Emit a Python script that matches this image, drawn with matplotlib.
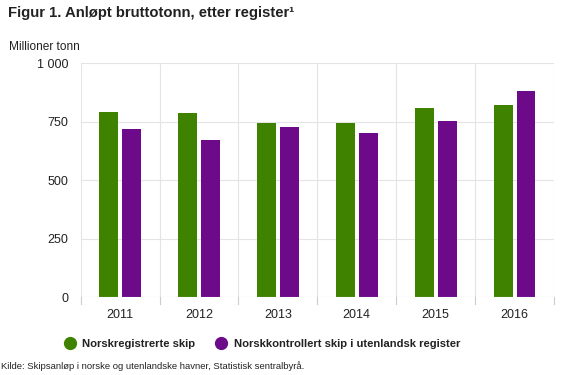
import matplotlib
matplotlib.use("Agg")
import matplotlib.pyplot as plt
import numpy as np
from matplotlib.lines import Line2D

plt.rcParams['font.family'] = ['Liberation Sans', 'DejaVu Sans']

years = ['2011', '2012', '2013', '2014', '2015', '2016']
norsk_reg = [793, 786, 746, 746, 810, 823]
norsk_utl = [718, 670, 726, 702, 753, 883]
series_names = ['Norskregistrerte skip', 'Norskkontrollert skip i utenlandsk register']
yticks = [0, 250, 500, 750, 1000]
ytick_labels = ['0', '250', '500', '750', '1 000']

green = '#3f8200'
purple = '#6c0a8a'

fig = plt.figure(figsize=(5.63, 3.75), dpi=100)
ax = fig.add_axes([80.7 / 563, 1 - 297 / 375, (554 - 80.7) / 563, (297 - 63.3) / 375])

x = np.arange(len(years))
w = 0.24
ax.bar(x - 0.145, norsk_reg, width=w, color=green, zorder=3)
ax.bar(x + 0.145, norsk_utl, width=w, color=purple, zorder=3)

ax.set_xlim(-0.5, len(years) - 0.5)
ax.set_ylim(0, 1000)
ax.set_yticks(yticks)
ax.set_yticklabels(ytick_labels)
ax.set_xticks(x)
ax.set_xticklabels(years)

# grid: horizontal at ticks, vertical at category boundaries
for v in yticks[1:]:
    ax.axhline(v, color='#e4e4e4', lw=0.8, zorder=1)
for b in np.arange(-0.5, len(years), 1.0):
    ax.axvline(b, color='#e4e4e4', lw=0.8, zorder=1)
    ax.plot([b, b], [0, -0.03], transform=ax.get_xaxis_transform(), color='#cccccc',
            lw=0.8, clip_on=False)

for s in ax.spines.values():
    s.set_visible(False)
ax.axhline(0, color='#cccccc', lw=0.8, zorder=4)
ax.tick_params(axis='x', length=0, pad=8.5, labelsize=9, colors='#222222')
ax.tick_params(axis='y', length=0, pad=9, labelsize=9, colors='#222222')

fig.text(8 / 563, 1 - 13 / 375, 'Figur 1. Anløpt bruttotonn, etter register¹',
         fontsize=10.7, fontweight='bold', color='#222222', va='center', ha='left')
fig.text(9 / 563, 1 - 47 / 375, 'Millioner tonn', fontsize=8.6, color='#222222',
         va='center', ha='left')

handles = [Line2D([], [], marker='o', ls='', markersize=8.5, color=green),
           Line2D([], [], marker='o', ls='', markersize=8.5, color=purple)]
leg = fig.legend(handles, series_names, loc='center', bbox_to_anchor=(262 / 563, 1 - 344 / 375),
                 ncol=2, frameon=False, handlelength=1.0, handletextpad=0.6, columnspacing=1.8,
                 prop={'weight': 'bold', 'size': 8.1})
for t in leg.get_texts():
    t.set_color('#222222')

fig.text(1 / 563, 1 - 366 / 375,
         'Kilde: Skipsanløp i norske og utenlandske havner, Statistisk sentralbyrå.',
         fontsize=6.8, color='#222222', va='center', ha='left')

fig.savefig('out.png', dpi=100)
